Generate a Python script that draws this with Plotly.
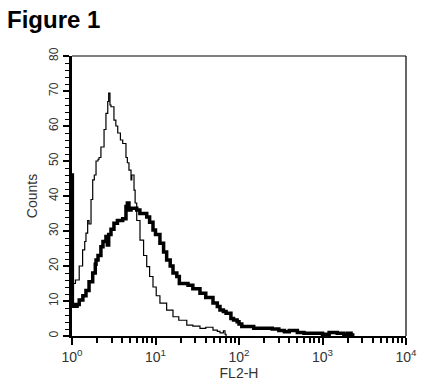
import plotly.graph_objects as go

# Thin histogram (control)
thin_fl2h = [1.00, 1.10, 1.22, 1.34, 1.42, 1.47, 1.54, 1.60, 1.69, 1.77, 1.85, 1.94, 2.05, 2.11,
             2.22, 2.42, 2.55, 2.68, 2.75, 2.85, 2.93, 3.18, 3.35, 3.53, 3.80, 4.05, 4.43, 4.60,
             4.81, 5.09, 5.20, 5.53, 5.70, 5.96, 6.52, 7.20, 7.85, 8.50, 9.33, 10.2, 11.3, 13.6,
             16.2, 19.0, 23.7, 28.0, 34.1, 40.0, 48.8, 55.0, 59.2, 65.0, 68.0, 70.0]
thin_counts = [15, 16, 20, 24.6, 27, 29.4, 33, 32, 39, 44.6, 46, 50, 50.5, 51,
               54, 59, 63.6, 67, 69.4, 66, 65.5, 61.7, 60, 58, 56, 55, 51, 49.5,
               47.4, 44.6, 46, 41.7, 38, 33, 27.4, 23, 19.8, 17, 14, 11.5, 9.4, 7.4,
               5.5, 4.5, 3.1, 2.8, 2.2, 2.5, 1.7, 1.3, 0.9, 1.5, 0.5, 0]

# Thick histogram (sample)
thick_fl2h = [1.00, 1.01, 1.05, 1.15, 1.22, 1.35, 1.47, 1.60, 1.77, 1.90, 1.94, 2.05, 2.22, 2.35,
              2.55, 2.65, 2.75, 2.93, 3.18, 3.50, 4.05, 4.43, 4.60, 4.81, 5.09, 5.96, 6.50, 7.85,
              8.50, 9.33, 10.0, 11.3, 12.5, 13.6, 15.0, 16.2, 18.0, 19.3, 23.7, 24.5, 28.0, 34.1,
              40.0, 48.8, 55.0, 59.2, 65.0, 70.0, 80.0, 86.0, 95.0, 100, 108, 130, 150, 200,
              250, 300, 350, 400, 500, 600, 800, 1000, 1200, 1500, 1800, 2000, 2200, 2300]
thick_counts = [46, 9, 8.5, 9, 10.3, 11.5, 13, 15.5, 18, 20.5, 21.7, 23, 25.5, 27,
                28.4, 26, 29, 30.5, 32.2, 33, 33.5, 37, 38, 36, 36.5, 36, 35, 34,
                32.5, 30.3, 29, 26.5, 24, 21.7, 20, 18, 17, 15, 15, 14.5, 13.5, 12.2,
                11, 9.4, 8.4, 7.4, 7, 6.5, 5, 4.6, 4.1, 3.4, 2.7, 2.7, 2.2, 2.2,
                2.0, 1.6, 1.2, 1.6, 1.0, 0.8, 0.8, 0.5, 1.0, 0.8, 0.5, 0.8, 0.3, 0]

x_major = [1, 10, 100, 1000, 10000]
x_major_text = ["10<sup>0</sup>", "10<sup>1</sup>", "10<sup>2</sup>", "10<sup>3</sup>", "10<sup>4</sup>"]
x_minor = [m * d for d in [1, 10, 100, 1000] for m in range(2, 10)]
y_major = [0, 10, 20, 30, 40, 50, 60, 70, 80]

fig = go.Figure()
fig.add_trace(go.Scatter(x=thin_fl2h, y=thin_counts, mode="lines", line_shape="hv",
                         line=dict(color="black", width=1.2), showlegend=False))
fig.add_trace(go.Scatter(x=thick_fl2h, y=thick_counts, mode="lines", line_shape="hv",
                         line=dict(color="black", width=3.5), showlegend=False))

FAM = "Liberation Sans, Arial, sans-serif"
font_x = dict(family=FAM, size=14, color="#333")
font_y = dict(family=FAM, size=12, color="#333")
font_title = dict(family=FAM, size=14, color="#333")

fig.update_layout(
    width=438, height=386,
    margin=dict(l=72, r=32, t=56, b=50),
    paper_bgcolor="white", plot_bgcolor="white",
    xaxis=dict(type="log", range=[0, 4], tickvals=x_major, ticktext=x_major_text,
               ticks="outside", ticklen=7, tickwidth=1.5, tickcolor="black",
               showline=True, linecolor="black", linewidth=2, showgrid=False, zeroline=False,
               minor=dict(tickvals=x_minor, ticks="outside", ticklen=5, tickwidth=1.5, tickcolor="black"),
               tickfont=font_x,
               title=dict(text="FL2-H", font=font_title, standoff=0)),
    yaxis=dict(range=[0, 80], tickvals=y_major, ticks="outside", ticklen=6, tickwidth=1.5,
               tickcolor="black", tickangle=-90,
               showline=True, linecolor="black", linewidth=3, showgrid=False, zeroline=False,
               minor=dict(dtick=2, ticks="outside", ticklen=4, tickwidth=1.2, tickcolor="black"),
               tickfont=font_y,
               title=dict(text="Counts", font=font_title, standoff=7)),
    font=font_x,
)

# thin top and right frame lines
fig.add_shape(type="line", xref="paper", yref="paper", x0=0, x1=1, y0=1, y1=1,
              line=dict(color="black", width=1.2))
fig.add_shape(type="line", xref="paper", yref="paper", x0=1, x1=1, y0=0, y1=1,
              line=dict(color="black", width=1.2))

fig.add_annotation(text="<b>Figure 1</b>", xref="paper", yref="paper",
                   x=(5 - 72) / 334, y=1 + 37 / 280, xanchor="left", yanchor="middle",
                   showarrow=False,
                   font=dict(family=FAM, size=24, color="black"))

fig.write_html("out.html", config={"displayModeBar": False},
               post_script="document.body.style.margin='0';")
